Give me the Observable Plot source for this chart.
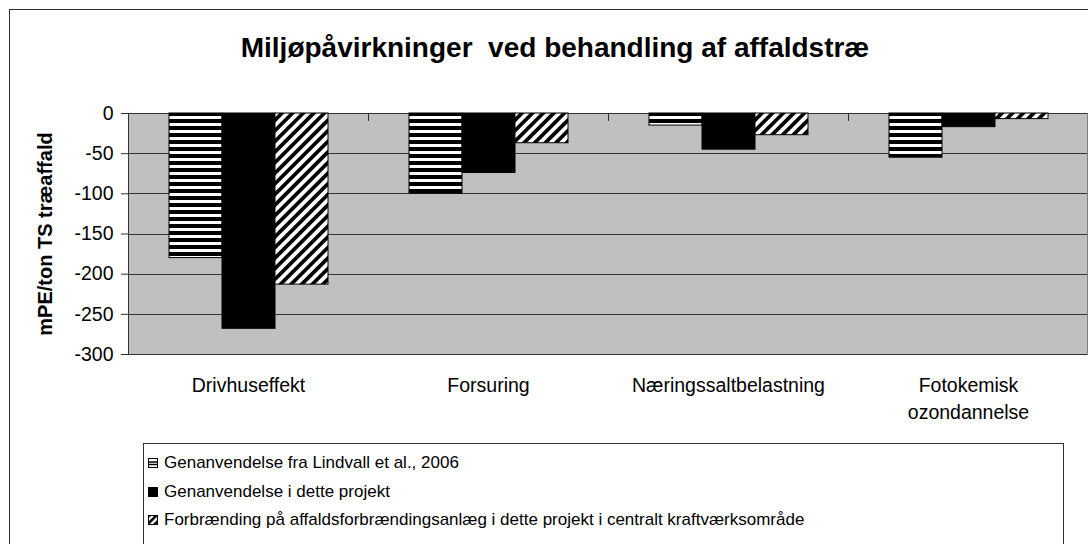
<!DOCTYPE html>
<html><head><meta charset="utf-8">
<script src="https://cdn.jsdelivr.net/npm/d3@7"></script>
<script src="https://cdn.jsdelivr.net/npm/@observablehq/plot@0.6"></script>
<style>
body{margin:0;background:#fff;font-family:"Liberation Sans",Arial,sans-serif;color:#000;}
#wrap{position:relative;width:1088px;height:544px;overflow:hidden;background:#fff;}
#border{position:absolute;left:9px;top:9px;width:1100px;height:600px;border:1px solid #333;box-sizing:border-box;}
#title{position:absolute;left:9px;width:1092px;top:32px;text-align:center;font-weight:bold;font-size:28px;line-height:32px;}
#chart{position:absolute;left:0;top:0;}
#legend{position:absolute;left:143px;top:443px;width:921px;height:130px;border:1px solid #333;box-sizing:border-box;font-size:17px;background:#fff;}
.row{position:absolute;left:4px;height:20px;display:flex;align-items:center;white-space:nowrap;}
.row svg{margin-right:6px;}
#chart svg [aria-label="y-axis label"]{font-weight:bold;font-size:20px;}
</style>
</head><body>
<svg width="0" height="0" style="position:absolute">
  <defs>
    <pattern id="hstripe" patternUnits="userSpaceOnUse" width="8" height="7">
      <rect width="8" height="7" fill="#fff"/>
      <rect y="0" width="8" height="4" fill="#000"/>
    </pattern>
    <pattern id="dstripe" patternUnits="userSpaceOnUse" width="7.5" height="7.5" patternTransform="rotate(45)">
      <rect width="7.5" height="7.5" fill="#fff"/>
      <rect x="0" width="3.7" height="7.5" fill="#000"/>
    </pattern>
    <pattern id="dstripeSmall" patternUnits="userSpaceOnUse" width="5" height="5" patternTransform="rotate(45)">
      <rect width="5" height="5" fill="#fff"/>
      <rect x="0" width="2.6" height="5" fill="#000"/>
    </pattern>
  </defs>
</svg>
<div id="wrap">
  <div id="border"></div>
  <div id="title">Miljøpåvirkninger&nbsp; ved behandling af affaldstræ</div>
  <div id="chart"></div>
  <div id="legend"></div>
</div>
<script>
const categories = ["Drivhuseffekt", "Forsuring", "Næringssaltbelastning", "Fotokemisk\nozondannelse"];
const series = [
  "Genanvendelse fra Lindvall et al., 2006",
  "Genanvendelse i dette projekt",
  "Forbrænding på affaldsforbrændingsanlæg i dette projekt i centralt kraftværksområde"
];
const lindvall = [-180, -100, -15, -55];
const detteProjekt = [-268, -74, -45, -17];
const forbraending = [-213, -37, -27, -7];
const yTicks = [0, -50, -100, -150, -200, -250, -300];
const fills = ["url(#hstripe)", "#000", "url(#dstripe)"];

const seriesValues = [lindvall, detteProjekt, forbraending];
const rows = [];
categories.forEach((c, i) => {
  series.forEach((s, j) => rows.push({category: c, series: s, value: seriesValues[j][i]}));
});

const chart = Plot.plot({
  width: 1088,
  height: 440,
  marginTop: 113,
  marginBottom: 86,
  marginLeft: 128,
  marginRight: 0,
  style: {fontFamily: "'Liberation Sans', Arial, sans-serif", fontSize: "19.5px", color: "#000", background: "transparent", overflow: "visible"},
  fx: {domain: categories, padding: 0, label: null},
  x: {domain: series, paddingInner: 0, paddingOuter: 0.73, axis: null},
  y: {domain: [-300, 0], label: null},
  color: {domain: series, range: fills},
  marks: [
    Plot.frame({fill: "#c0c0c0", stroke: null, shapeRendering: "crispEdges"}),
    Plot.gridY(yTicks, {stroke: "#333", strokeOpacity: 1, shapeRendering: "crispEdges"}),
    Plot.frame({anchor: "right", stroke: "#808080", strokeOpacity: 1, facetAnchor: "right", dx: -1}),
    Plot.frame({anchor: "left", stroke: "#333", strokeOpacity: 1, insetBottom: 234}),
    Plot.frame({anchor: "left", stroke: "#333", strokeOpacity: 1, facetAnchor: "left"}),
    Plot.barY(rows, {fx: "category", x: "series", y: "value", fill: "series", stroke: "#000", strokeWidth: 1}),
    Plot.axisY({ticks: yTicks, tickSize: 7, tickPadding: 8, tickFormat: d => String(d),
      label: "mPE/ton TS træaffald", labelArrow: "none", labelAnchor: "center", labelOffset: 91, stroke: "#333"}),
    Plot.axisFx({anchor: "bottom", tickSize: 0, tickPadding: 19, label: null, lineHeight: 1.35})
  ]
});
document.getElementById("chart").appendChild(chart);

const legend = document.getElementById("legend");
const icons = [
  `<svg width="10" height="10"><rect x="0.5" y="0.5" width="9" height="9" fill="#fff" stroke="#000"/><line x1="0" y1="4" x2="10" y2="4" stroke="#000" stroke-width="1.5"/><line x1="0" y1="6.5" x2="10" y2="6.5" stroke="#000" stroke-width="1.5"/></svg>`,
  `<svg width="10" height="10"><rect x="0" y="0" width="10" height="10" fill="#000"/></svg>`,
  `<svg width="10" height="10"><rect x="0.5" y="0.5" width="9" height="9" fill="url(#dstripeSmall)" stroke="#000"/></svg>`
];
const rowTops = [9, 38, 66];
series.forEach((s, i) => {
  const r = document.createElement("div");
  r.className = "row";
  r.style.top = rowTops[i] + "px";
  r.innerHTML = icons[i] + `<span></span>`;
  r.querySelector("span").textContent = s;
  legend.appendChild(r);
});
</script>
</body></html>
